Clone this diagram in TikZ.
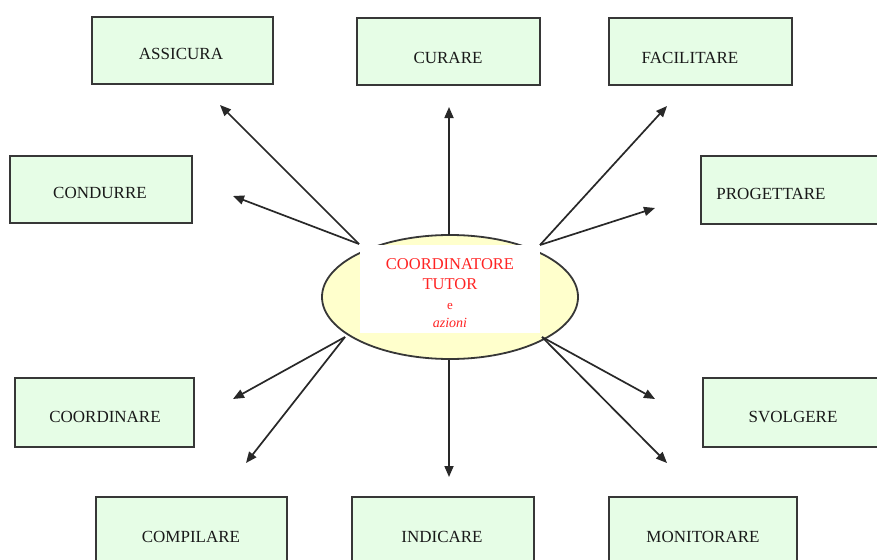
\documentclass[tikz,border=0pt]{standalone}
\usepackage{fontspec}
\setmainfont{Liberation Serif}
\usetikzlibrary{arrows.meta}
\definecolor{boxfill}{RGB}{230,253,230}
\definecolor{boxline}{RGB}{55,55,55}
\definecolor{ellfill}{RGB}{255,255,204}
\definecolor{tutorred}{RGB}{255,35,35}
\definecolor{arrowgray}{RGB}{40,40,40}
\begin{document}
\begin{tikzpicture}[x=1pt,y=-1pt,
  actbox/.style={draw=boxline,line width=2pt,fill=boxfill,rectangle,inner sep=0pt,anchor=north west},
  acttext/.style={inner sep=0pt,anchor=center,text=black!90,font=\fontsize{17}{20}\selectfont},
  redtext/.style={inner sep=0pt,anchor=center,text=tutorred},
  conn/.style={draw=arrowgray,line width=1.7pt,-{Triangle[length=11pt,width=9pt]}}
]
\useasboundingbox (0,0) rectangle (877,559);
\clip (0,0) rectangle (877,559);
\fill[white] (0,0) rectangle (877,559);

% boxes
\node[actbox,minimum width=181pt,minimum height=67pt] (bA) at (91,16) {};
\node[acttext] (tA) at (181,54) {ASSICURA};
\node[actbox,minimum width=183pt,minimum height=67pt] (bCu) at (356,17) {};
\node[acttext] (tCu) at (448,58) {CURARE};
\node[actbox,minimum width=183pt,minimum height=67pt] (bF) at (608,17) {};
\node[acttext] (tF) at (690,58) {FACILITARE};
\node[actbox,minimum width=182pt,minimum height=67pt] (bCo) at (9,155) {};
\node[acttext] (tCo) at (100,193) {CONDURRE};
\node[actbox,minimum width=200pt,minimum height=68pt] (bP) at (700,155) {};
\node[acttext] (tP) at (771,194) {PROGETTARE};
\node[actbox,minimum width=179pt,minimum height=69pt] (bCd) at (14,377) {};
\node[acttext] (tCd) at (105,417) {COORDINARE};
\node[actbox,minimum width=200pt,minimum height=69pt] (bS) at (702,377) {};
\node[acttext] (tS) at (793,417) {SVOLGERE};
\node[actbox,minimum width=191pt,minimum height=100pt] (bCm) at (95,496) {};
\node[acttext] (tCm) at (191,537) {COMPILARE};
\node[actbox,minimum width=182pt,minimum height=100pt] (bI) at (351,496) {};
\node[acttext] (tI) at (442,537) {INDICARE};
\node[actbox,minimum width=188pt,minimum height=100pt] (bM) at (608,496) {};
\node[acttext] (tM) at (703,537) {MONITORARE};

% central ellipse with white label area
\filldraw[draw=boxline,line width=1.8pt,fill=ellfill] (450,297) ellipse [x radius=128pt, y radius=62pt];
\fill[white] (360,245) rectangle (540,333);
\node[redtext,font=\fontsize{16.5}{19}\selectfont] (c1) at (450,264) {COORDINATORE};
\node[redtext,font=\fontsize{16.5}{19}\selectfont] (c2) at (450,284) {TUTOR};
\node[redtext,font=\fontsize{13}{15}\selectfont] (c3) at (450,306) {e};
\node[redtext,font=\fontsize{14}{16}\itshape] (c4) at (450,323) {azioni};

% start points
\coordinate (sUL) at (359,244);
\coordinate (sUR) at (540,245);
\coordinate (sLL) at (345,337);
\coordinate (sLR) at (542,337);
\coordinate (sT) at (449,235);
\coordinate (sB) at (449,360);
% end points
\coordinate (eA) at (220,105);
\coordinate (eCo) at (233,196);
\coordinate (eCu) at (449,107);
\coordinate (eF) at (667,106);
\coordinate (eP) at (655,208);
\coordinate (eCd) at (233,399);
\coordinate (eCm) at (246,463);
\coordinate (eI) at (449,477);
\coordinate (eS) at (655,399);
\coordinate (eM) at (667,463);

\draw[conn] (sUL) -- (eA);
\draw[conn] (sUL) -- (eCo);
\draw[conn] (sT) -- (eCu);
\draw[conn] (sUR) -- (eF);
\draw[conn] (sUR) -- (eP);
\draw[conn] (sLL) -- (eCd);
\draw[conn] (sLL) -- (eCm);
\draw[conn] (sB) -- (eI);
\draw[conn] (sLR) -- (eS);
\draw[conn] (sLR) -- (eM);
\end{tikzpicture}
\end{document}
